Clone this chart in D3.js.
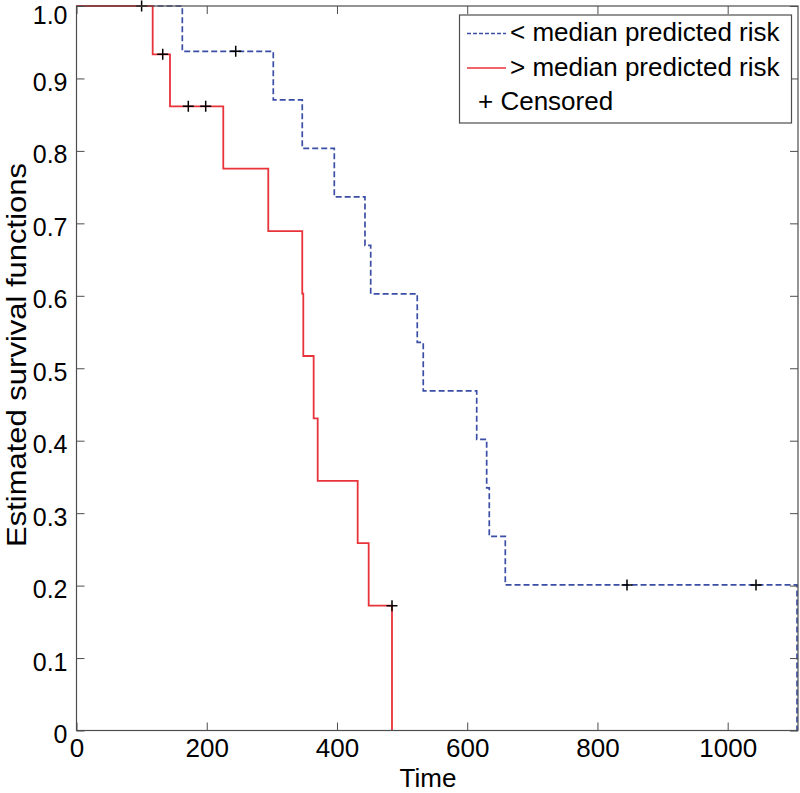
<!DOCTYPE html>
<html>
<head>
<meta charset="utf-8">
<script src="https://cdn.jsdelivr.net/npm/d3@7"></script>
<style>
  html, body { margin: 0; padding: 0; background: #fff; }
  svg text { font-family: "Liberation Sans", Arial, Helvetica, sans-serif; fill: #000; }
</style>
</head>
<body>
<svg id="chart" width="800" height="793"></svg>
<script>
// ---- Data ----
// Low-risk group (< median predicted risk): step times and survival after each step
const lowTimes    = [0, 162.5, 302.2, 346.7, 395.9, 443.0, 451.8, 523.3, 532.5, 614.6, 629.9, 633.9, 658.5, 1106.5];
const lowSurv     = [1.0, 0.9375, 0.8705, 0.8036, 0.7366, 0.6696, 0.6027, 0.5357, 0.4688, 0.4018, 0.3348, 0.2679, 0.2009, 0.0];
const lowCensT    = [244.5, 845.4, 1043.5];
const lowCensS    = [0.9375, 0.2009, 0.2009];

// High-risk group (> median predicted risk)
const highTimes   = [0, 117.0, 143.6, 225.4, 294.5, 346.7, 348.3, 364.2, 370.4, 431.8, 448.7, 484.5];
const highSurv    = [1.0, 0.9333, 0.8615, 0.7754, 0.6892, 0.6031, 0.5169, 0.4308, 0.3446, 0.2585, 0.1723, 0.0];
const highCensT   = [100.0, 132.4, 171.7, 198.4, 484.5];
const highCensS   = [1.0, 0.9333, 0.8615, 0.8615, 0.1723];

const xTicks = [0, 200, 400, 600, 800, 1000];
const yTicks = [0, 0.1, 0.2, 0.3, 0.4, 0.5, 0.6, 0.7, 0.8, 0.9, 1.0];
const yTickLabels = ["0", "0.1", "0.2", "0.3", "0.4", "0.5", "0.6", "0.7", "0.8", "0.9", "1.0"];
const legendLabels = ["< median predicted risk", "> median predicted risk", "+ Censored"];
const xTitle = "Time";
const yTitle = "Estimated survival functions";

// ---- Layout ----
const L = 76.5, R = 798, T = 6, B = 730.5;
const x = d3.scaleLinear().domain([0, 1108]).range([L, R]);
const y = d3.scaleLinear().domain([0, 1]).range([B, T]);
const axisColor = "#4d4d4d";
const blue = "#3b4ea6";
const red = "#e8333a";

const svg = d3.select("#chart");

// Curves
const line = d3.line().x(d => x(d[0])).y(d => y(d[1])).curve(d3.curveStepAfter);
const pts = (ts, ss) => ts.map((t, i) => [t, ss[i]]);
svg.append("path")
  .datum(pts(lowTimes, lowSurv))
  .attr("d", line)
  .attr("fill", "none")
  .attr("stroke", blue)
  .attr("stroke-width", 1.7)
  .attr("stroke-dasharray", "6,3");
svg.append("path")
  .datum(pts(highTimes, highSurv))
  .attr("d", line)
  .attr("fill", "none")
  .attr("stroke", red)
  .attr("stroke-width", 1.8);

// Censor marks
const cens = pts(lowCensT, lowCensS).concat(pts(highCensT, highCensS));
const ms = 5.5;
const cg = svg.append("g").attr("stroke", "#000").attr("stroke-width", 1.5);
cg.selectAll("path.c").data(cens).enter().append("path")
  .attr("class", "c")
  .attr("d", d => `M${x(d[0]) - ms},${y(d[1])}H${x(d[0]) + ms}M${x(d[0])},${y(d[1]) - ms}V${y(d[1]) + ms}`);

// Axes (MATLAB style: inward ticks, full box)
const tickLen = 8;
const fs = 26;
const xb = svg.append("g").attr("transform", `translate(0,${B})`)
  .call(d3.axisBottom(x).tickValues(xTicks).tickSizeInner(-tickLen).tickSizeOuter(0).tickPadding(0).tickFormat(d3.format("d")));
xb.select(".domain").remove();
xb.selectAll(".tick line").attr("stroke", axisColor);
xb.selectAll(".tick text").attr("font-size", fs).attr("y", 26).attr("dy", 0);

const xt = svg.append("g").attr("transform", `translate(0,${T})`)
  .call(d3.axisTop(x).tickValues(xTicks).tickSizeInner(-tickLen).tickSizeOuter(0).tickFormat(""));
xt.select(".domain").remove();
xt.selectAll(".tick line").attr("stroke", axisColor);

const yl = svg.append("g").attr("transform", `translate(${L},0)`)
  .call(d3.axisLeft(y).tickValues(yTicks).tickSizeInner(-tickLen).tickSizeOuter(0).tickPadding(0)
    .tickFormat((d, i) => yTickLabels[i]));
yl.select(".domain").remove();
yl.selectAll(".tick line").attr("stroke", axisColor);
yl.selectAll(".tick text").attr("font-size", 25).attr("x", -9).attr("dy", 0)
  .attr("y", d => (d === 1 ? 23 - y(d) : 12));

const yr = svg.append("g").attr("transform", `translate(${R},0)`)
  .call(d3.axisRight(y).tickValues(yTicks).tickSizeInner(-tickLen).tickSizeOuter(0).tickFormat(""));
yr.select(".domain").remove();
yr.selectAll(".tick line").attr("stroke", axisColor);

svg.append("rect")
  .attr("x", L).attr("y", T).attr("width", R - L).attr("height", B - T)
  .attr("fill", "none").attr("stroke", axisColor).attr("stroke-width", 1.2);

// Titles
svg.append("text").attr("x", 428).attr("y", 787).attr("text-anchor", "middle")
  .attr("font-size", fs).text(xTitle);
svg.append("text").attr("transform", `translate(26,355) rotate(-90)`).attr("text-anchor", "middle")
  .attr("font-size", 28).attr("textLength", 384).attr("lengthAdjust", "spacingAndGlyphs").text(yTitle);

// Legend
const lg = svg.append("g");
lg.append("rect").attr("x", 459.5).attr("y", 15).attr("width", 332).attr("height", 108)
  .attr("fill", "#fff").attr("stroke", axisColor).attr("stroke-width", 1.2);
const rowsY = [33.5, 68, 102];
lg.append("line").attr("x1", 467).attr("x2", 506).attr("y1", rowsY[0]).attr("y2", rowsY[0])
  .attr("stroke", blue).attr("stroke-width", 1.5).attr("stroke-dasharray", "4,2");
lg.append("line").attr("x1", 467).attr("x2", 506).attr("y1", rowsY[1]).attr("y2", rowsY[1])
  .attr("stroke", red).attr("stroke-width", 1.6);
lg.append("text").attr("x", 510).attr("y", rowsY[0] + 7.5).attr("font-size", fs).text(legendLabels[0]);
lg.append("text").attr("x", 510).attr("y", rowsY[1] + 7.5).attr("font-size", fs).text(legendLabels[1]);
lg.append("text").attr("x", 478).attr("y", rowsY[2] + 7.5).attr("font-size", fs).text(legendLabels[2]);
</script>
</body>
</html>
